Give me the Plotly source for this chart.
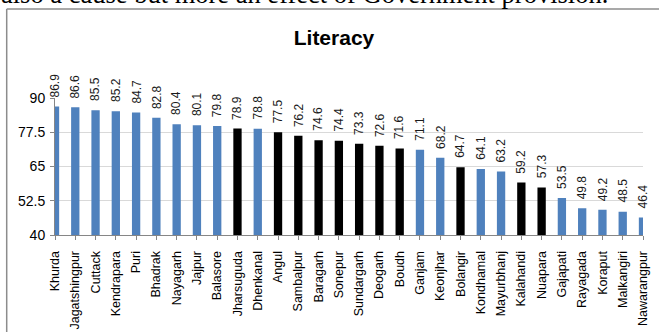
import plotly.graph_objects as go

districts = ["Khurda", "Jagatshingpur", "Cuttack", "Kendrapara", "Puri", "Bhadrak",
             "Nayagarh", "Jajpur", "Balasore", "Jharsuguda", "Dhenkanal", "Angul",
             "Sambalpur", "Baragarh", "Sonepur", "Sundargarh", "Deogarh", "Boudh",
             "Ganjam", "Keonjhar", "Bolangir", "Kondhamal", "Mayurbhanj", "Kalahandi",
             "Nuapara", "Gajapati", "Rayagada", "Koraput", "Malkangiri", "Nawarangpur"]
literacy = [86.9, 86.6, 85.5, 85.2, 84.7, 82.8, 80.4, 80.1, 79.8, 78.9, 78.8, 77.5,
            76.2, 74.6, 74.4, 73.3, 72.6, 71.6, 71.1, 68.2, 64.7, 64.1, 63.2, 59.2,
            57.3, 53.5, 49.8, 49.2, 48.5, 46.4]
highlighted = ["Jharsuguda", "Angul", "Sambalpur", "Baragarh", "Sonepur", "Sundargarh",
               "Deogarh", "Boudh", "Bolangir", "Kalahandi", "Nuapara"]
y_ticks = [40, 52.5, 65, 77.5, 90]
y_tick_labels = ["40", "52.5", "65", "77.5", "90"]

BLUE = "#4f81bd"
BLACK = "#000000"
colors = [BLACK if d in highlighted else BLUE for d in districts]

W, H = 659, 332
L, R, T, B = 55, 16, 98, 97
pw, ph = W - L - R, H - T - B


def px_x(x):
    return (x - L) / pw


def px_y(y):
    return (H - B - y) / ph


fig = go.Figure()
fig.add_trace(go.Bar(
    x=districts, y=literacy, marker=dict(color=colors, line=dict(width=0)),
    width=0.41, hoverinfo="x+y",
))

label_font = dict(family="Liberation Sans, Arial, sans-serif", size=12, color="#1a1a1a")
for d, v in zip(districts, literacy):
    fig.add_annotation(x=d, y=v, xref="x", yref="y", text=f"{v:.1f}", showarrow=False,
                       textangle=-90, xanchor="center", yanchor="bottom", yshift=8,
                       borderpad=0, font=label_font)

# top document text (cropped by the page edge, as in the source)
fig.add_annotation(xref="paper", yref="paper", x=px_x(0), y=px_y(10), xanchor="left",
                   yanchor="bottom", borderpad=0, showarrow=False,
                   text="also a cause but more an effect of Government provision.",
                   font=dict(family="Liberation Serif, Times New Roman, serif", size=26.5,
                             color="#000000"))

# chart border
border = dict(color="#8c8c8c", width=1.5)
fig.add_shape(type="line", xref="paper", yref="paper", x0=px_x(6.7), x1=px_x(6.7),
              y0=px_y(9), y1=px_y(345), line=border)
fig.add_shape(type="line", xref="paper", yref="paper", x0=px_x(6.7), x1=px_x(670),
              y0=px_y(9), y1=px_y(9), line=border)

fig.update_layout(
    width=W, height=H, margin=dict(l=L, r=R, t=T, b=B, autoexpand=False),
    paper_bgcolor="white", plot_bgcolor="white", showlegend=False, bargap=0.59,
    title=dict(text="<b>Literacy</b>", x=334 / W, xanchor="center", y=1 - 38 / H,
               yanchor="middle", yref="container",
               font=dict(family="Liberation Sans, Arial, sans-serif", size=21,
                         color="#000000")),
)
fig.update_xaxes(
    type="category", range=[0, len(districts) - 1], showline=True, linecolor="#868686",
    linewidth=1, ticks="outside", ticklen=4, tickcolor="#868686", tickangle=-90,
    tickfont=dict(family="Liberation Sans, Arial, sans-serif", size=12.5, color="#000000"),
    showgrid=False, ticklabelstandoff=6,
)
fig.update_yaxes(
    range=[40, 90], tickvals=y_ticks, ticktext=y_tick_labels, showline=True,
    linecolor="#868686", linewidth=1, ticks="outside", ticklen=4, tickcolor="#868686",
    gridcolor="#d9d9d9", gridwidth=1, zeroline=False, ticklabelstandoff=2,
    tickfont=dict(family="Liberation Sans, Arial, sans-serif", size=14, color="#000000"),
)

fig.write_html("out.html")
